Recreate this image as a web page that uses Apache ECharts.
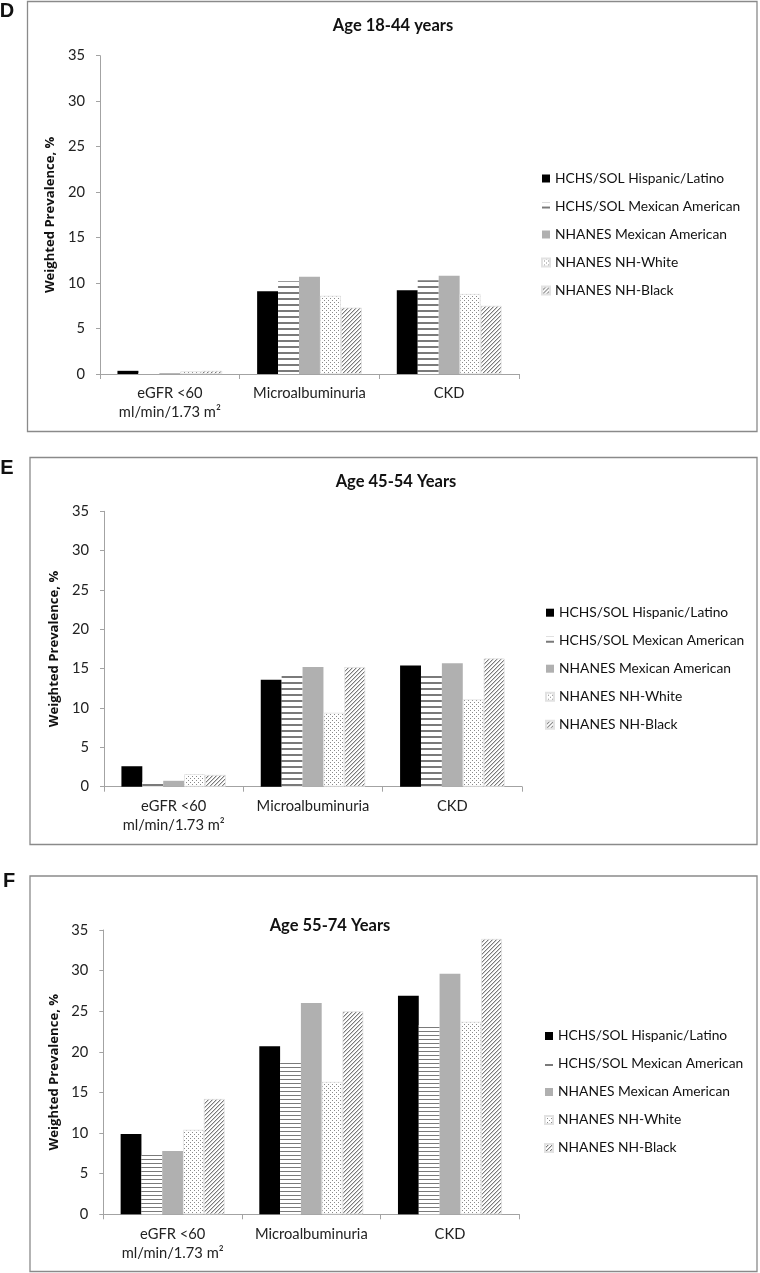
<!DOCTYPE html>
<html>
<head>
<meta charset="utf-8">
<script src="https://cdn.jsdelivr.net/npm/echarts@6/dist/echarts.min.js"></script>
<style>
html,body{margin:0;padding:0;background:#fff;}
#chart{width:760px;height:1273px;}
</style>
</head>
<body>
<div id="chart"></div>
<script>
// ---- data ----
var categories = ['eGFR <60\nml/min/1.73 m²', 'Microalbuminuria', 'CKD'];
var seriesNames = ['HCHS/SOL Hispanic/Latino', 'HCHS/SOL Mexican American', 'NHANES Mexican American', 'NHANES NH-White', 'NHANES NH-Black'];
var yTicks = [0, 5, 10, 15, 20, 25, 30, 35];
var panelTitles = ['Age 18-44 years', 'Age 45-54 Years', 'Age 55-74 Years'];
var panelLetters = ['D', 'E', 'F'];
var yAxisTitle = 'Weighted Prevalence, %';

// Panel D: age 18-44
var hispD   = [0.35, 9.1, 9.2];
var mexSolD = [0.1, 10.2, 10.3];
var mexNhD  = [0.1, 10.7, 10.8];
var whiteD  = [0.3, 8.6, 8.8];
var blackD  = [0.35, 7.3, 7.5];
// Panel E: age 45-54
var hispE   = [2.6, 13.6, 15.4];
var mexSolE = [0.6, 14.1, 14.2];
var mexNhE  = [0.75, 15.2, 15.7];
var whiteE  = [1.6, 9.4, 11.1];
var blackE  = [1.5, 15.2, 16.3];
// Panel F: age 55-74
var hispF   = [9.9, 20.7, 26.9];
var mexSolF = [7.3, 18.8, 23.3];
var mexNhF  = [7.8, 26.0, 29.6];
var whiteF  = [10.4, 16.3, 23.7];
var blackF  = [14.2, 25.0, 33.9];

var panelData = [
  [hispD, mexSolD, mexNhD, whiteD, blackD],
  [hispE, mexSolE, mexNhE, whiteE, blackE],
  [hispF, mexSolF, mexNhF, whiteF, blackF]
];

// ---- font sizing to match the reference text widths ----
var labelFamily = 'Lato';
var nameFamily = 'Open Sans';
var measureCtx = document.createElement('canvas').getContext('2d');
function fitSize(text, family, weight, target) {
  measureCtx.font = weight + ' 100px "' + family + '"';
  var w = measureCtx.measureText(text).width;
  return Math.round(100 * target / w * 10) / 10;
}
var legendSize = fitSize('HCHS/SOL Mexican American', labelFamily, 'normal', 185);
var catSize = fitSize('Microalbuminuria', labelFamily, 'normal', 113);
var nameSize = fitSize(yAxisTitle, nameFamily, 'bold', 156);
var titleSize = fitSize('Age 55-74 Years', labelFamily, 'bold', 121);

// ---- patterns ----
function makeCanvas(w, h, draw) {
  var c = document.createElement('canvas');
  c.width = w; c.height = h;
  var ctx = c.getContext('2d');
  ctx.fillStyle = '#ffffff';
  ctx.fillRect(0, 0, w, h);
  draw(ctx);
  return c;
}
function linesPattern(period, thick) {
  return { image: makeCanvas(4, period, function (ctx) {
    ctx.fillStyle = '#7a7a7a';
    ctx.fillRect(0, period - thick, 4, thick);
  }), repeat: 'repeat' };
}
var dotsPattern = { image: makeCanvas(4, 4, function (ctx) {
  ctx.fillStyle = '#8a8a8a';
  ctx.fillRect(0, 0, 1, 1);
  ctx.fillRect(2, 2, 1, 1);
}), repeat: 'repeat' };
var hatchPattern = { image: makeCanvas(4, 4, function (ctx) {
  ctx.fillStyle = '#7a7a7a';
  for (var i = 0; i < 4; i++) ctx.fillRect(i, 3 - i, 1, 1);
  ctx.fillStyle = '#cfcfcf';
  for (var j = 0; j < 4; j++) ctx.fillRect((j + 1) % 4, 3 - j, 1, 1);
}), repeat: 'repeat' };

function fillsFor(p) {
  return ['#000000', p === 2 ? linesPattern(4, 1) : linesPattern(6, 2), '#b0b0b0', dotsPattern, hatchPattern];
}

// ---- layout ----
var grids = [
  { left: 100, top: 55.7, width: 419, height: 318.3 },
  { left: 104, top: 511.3, width: 418, height: 275.4 },
  { left: 103.3, top: 930, width: 416, height: 284.3 }
];
var legendPos = [
  { left: 541, top: 170.5 },
  { left: 545, top: 604.7 },
  { left: 544, top: 1028 }
];
var boxes = [
  { x: 27.5, y: 1.5, w: 729.5, h: 430 },
  { x: 30, y: 457.5, w: 727, h: 387 },
  { x: 30, y: 876, w: 727, h: 395.5 }
];
var titlePos = [[393, 26], [396, 482], [330, 926]];
var letterPos = [[7, 11], [7, 468], [9, 881]];

var axisColor = '#a3a3a3';

var xAxes = [], yAxes = [], series = [], legends = [], graphics = [];
for (var p = 0; p < 3; p++) {
  xAxes.push({
    type: 'category', gridIndex: p, data: categories,
    axisLine: { lineStyle: { color: axisColor, width: 1 } },
    axisTick: { show: true, length: 5, lineStyle: { color: axisColor } },
    axisLabel: { color: '#222', fontFamily: labelFamily, fontSize: catSize, lineHeight: 19, margin: 10, interval: 0 }
  });
  yAxes.push({
    type: 'value', gridIndex: p, min: 0, max: 35, interval: 5,
    name: yAxisTitle, nameLocation: 'middle', nameRotate: 90, nameGap: 36,
    nameTextStyle: { fontFamily: nameFamily, fontWeight: 'bold', fontSize: nameSize, color: '#111' },
    axisLine: { show: true, lineStyle: { color: axisColor, width: 1 } },
    axisTick: { show: true, length: 4, lineStyle: { color: axisColor } },
    splitLine: { show: false },
    axisLabel: { color: '#222', fontFamily: labelFamily, fontSize: catSize, margin: 15,
      formatter: function (v) { return yTicks.indexOf(v) >= 0 ? String(v) : ''; } }
  });
  var fills = fillsFor(p);
  for (var s = 0; s < 5; s++) {
    series.push({
      type: 'bar', name: seriesNames[s], xAxisIndex: p, yAxisIndex: p,
      data: panelData[p][s],
      barGap: '0%', barCategoryGap: '25%',
      itemStyle: { color: fills[s], borderColor: (s >= 3 ? '#e2e2e2' : null), borderWidth: (s >= 3 ? 0.8 : 0) },
      emphasis: { disabled: true },
      silent: true, animation: false
    });
  }
  legends.push({
    orient: 'vertical', left: legendPos[p].left, top: legendPos[p].top,
    padding: 0, itemWidth: 8, itemHeight: 8, itemGap: 12, icon: 'rect',
    data: seriesNames,
    textStyle: { fontFamily: labelFamily, fontSize: legendSize, color: '#111', lineHeight: 16 },
    selectedMode: false
  });
  var b = boxes[p];
  graphics.push({ type: 'rect', shape: { x: b.x, y: b.y, width: b.w, height: b.h },
    style: { fill: 'none', stroke: '#8a8a8a', lineWidth: 1.3 }, silent: true, z: 0 });
  graphics.push({ type: 'text', x: titlePos[p][0], y: titlePos[p][1],
    style: { text: panelTitles[p], font: 'bold ' + titleSize + 'px ' + labelFamily, fill: '#111', align: 'center', verticalAlign: 'middle' } });
  graphics.push({ type: 'text', x: letterPos[p][0], y: letterPos[p][1],
    style: { text: panelLetters[p], font: 'bold 20px "Liberation Sans", Arial, sans-serif', fill: '#111', align: 'center', verticalAlign: 'middle' } });
}

var chart = echarts.init(document.getElementById('chart'), null, { renderer: 'canvas' });
chart.setOption({
  backgroundColor: '#ffffff',
  animation: false,
  grid: grids,
  xAxis: xAxes,
  yAxis: yAxes,
  legend: legends,
  series: series,
  graphic: graphics
});
</script>
</body>
</html>
